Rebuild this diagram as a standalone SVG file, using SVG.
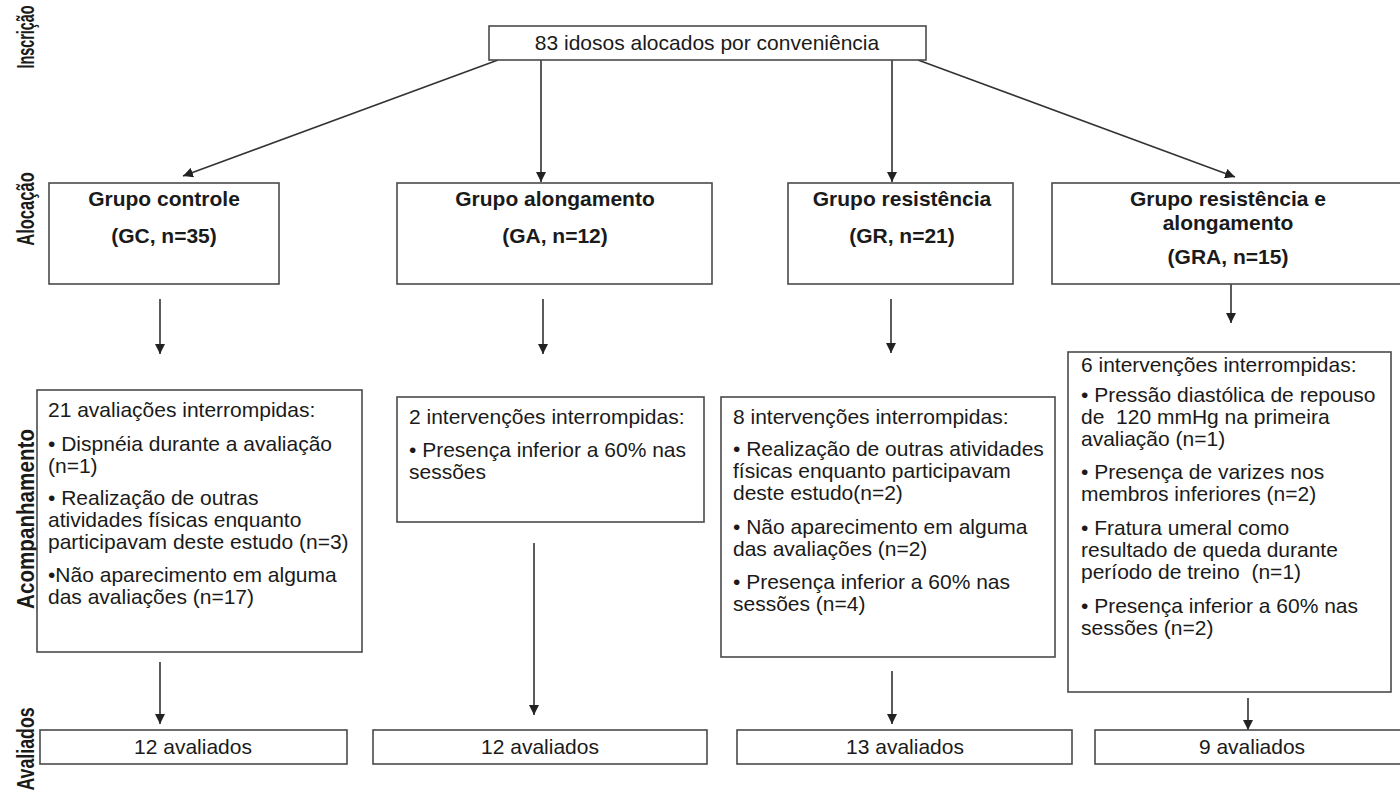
<svg xmlns="http://www.w3.org/2000/svg" width="1400" height="793" viewBox="0 0 1400 793">
<style>
.box{fill:#fff;stroke:#4a4a4a;stroke-width:1.6}
.t{font-family:"Liberation Sans",Arial,sans-serif;font-size:21px;fill:#1a1a1a}
.b{font-weight:bold}
.c{text-anchor:middle}
.side{font-family:"Liberation Sans Narrow","Liberation Sans",Arial,sans-serif;font-weight:bold;font-size:24px;fill:#1a1a1a;text-anchor:middle}
.ln{stroke:#333;stroke-width:1.6;fill:none;marker-end:url(#ah)}
</style>
<defs>
<marker id="ah" markerUnits="userSpaceOnUse" markerWidth="10" markerHeight="10" refX="10" refY="5" orient="auto">
<path d="M0,0 L10,5 L0,10 z" fill="#222"/>
</marker>
</defs>
<rect width="1400" height="793" fill="#fff"/>
<g id="side-labels">
<text class="side" transform="translate(34,37) rotate(-90) scale(0.6,1)">Inscrição</text>
<text class="side" transform="translate(34,209) rotate(-90) scale(0.69,1)">Alocação</text>
<text class="side" transform="translate(34,519) rotate(-90) scale(0.86,1)">Acompanhamento</text>
<text class="side" transform="translate(34,749) rotate(-90) scale(0.74,1)">Avaliados</text>
</g>
<g id="connectors">
<line class="ln" x1="498" y1="60" x2="183" y2="176"/>
<line class="ln" x1="541" y1="60" x2="541" y2="182"/>
<line class="ln" x1="892" y1="60" x2="892" y2="182"/>
<line class="ln" x1="918" y1="60" x2="1235" y2="177"/>
<line class="ln" x1="160" y1="299" x2="160" y2="354"/>
<line class="ln" x1="543" y1="299" x2="543" y2="354"/>
<line class="ln" x1="891" y1="299" x2="891" y2="353"/>
<line class="ln" x1="1231" y1="270" x2="1231" y2="323"/>
<line class="ln" x1="160" y1="662" x2="160" y2="724"/>
<line class="ln" x1="534" y1="543" x2="534" y2="715"/>
<line class="ln" x1="892" y1="671" x2="892" y2="724"/>
<line class="ln" x1="1248" y1="698" x2="1248" y2="730"/>
</g>
<g id="enroll">
<rect class="box" x="489" y="26" width="437" height="34"/>
<text class="t c" x="707" y="50">83 idosos alocados por conveniência</text>
</g>
<g id="gc">
<rect class="box" x="49" y="183" width="230" height="101"/>
<text class="t b c" x="164" y="206">Grupo controle</text>
<text class="t b c" x="164" y="243">(GC, n=35)</text>
</g>
<g id="ga">
<rect class="box" x="397" y="183" width="315" height="101"/>
<text class="t b c" x="555" y="206">Grupo alongamento</text>
<text class="t b c" x="555" y="243">(GA, n=12)</text>
</g>
<g id="gr">
<rect class="box" x="788" y="183" width="225" height="101"/>
<text class="t b c" x="902" y="206">Grupo resistência</text>
<text class="t b c" x="902" y="243">(GR, n=21)</text>
</g>
<g id="gra">
<rect class="box" x="1052" y="183" width="352" height="101"/>
<text class="t b c" x="1228" y="206">Grupo resistência e</text>
<text class="t b c" x="1228" y="230">alongamento</text>
<text class="t b c" x="1228" y="264">(GRA, n=15)</text>
</g>
<g id="gc-follow">
<rect class="box" x="37" y="390" width="325" height="262"/>
<text class="t" x="48" y="417">21 avaliações interrompidas:</text>
<text class="t" x="48" y="451">• Dispnéia durante a avaliação</text>
<text class="t" x="48" y="473">(n=1)</text>
<text class="t" x="48" y="505">• Realização de outras</text>
<text class="t" x="48" y="527">atividades físicas enquanto</text>
<text class="t" x="48" y="549">participavam deste estudo (n=3)</text>
<text class="t" x="48" y="582">•Não aparecimento em alguma</text>
<text class="t" x="48" y="604">das avaliações (n=17)</text>
</g>
<g id="ga-follow">
<rect class="box" x="397" y="397" width="307" height="125"/>
<text class="t" x="409" y="424">2 intervenções interrompidas:</text>
<text class="t" x="409" y="457">• Presença inferior a 60% nas</text>
<text class="t" x="409" y="479">sessões</text>
</g>
<g id="gr-follow">
<rect class="box" x="721" y="397" width="334" height="260"/>
<text class="t" x="733" y="424">8 intervenções interrompidas:</text>
<text class="t" x="733" y="456">• Realização de outras atividades</text>
<text class="t" x="733" y="478">físicas enquanto participavam</text>
<text class="t" x="733" y="500">deste estudo(n=2)</text>
<text class="t" x="733" y="534">• Não aparecimento em alguma</text>
<text class="t" x="733" y="556">das avaliações (n=2)</text>
<text class="t" x="733" y="589">• Presença inferior a 60% nas</text>
<text class="t" x="733" y="611">sessões (n=4)</text>
</g>
<g id="gra-follow">
<rect class="box" x="1068" y="352" width="323" height="340"/>
<text class="t" x="1081" y="372">6 intervenções interrompidas:</text>
<text class="t" x="1081" y="402">• Pressão diastólica de repouso</text>
<text class="t" x="1081" y="424" xml:space="preserve">de  120 mmHg na primeira</text>
<text class="t" x="1081" y="446">avaliação (n=1)</text>
<text class="t" x="1081" y="479">• Presença de varizes nos</text>
<text class="t" x="1081" y="501">membros inferiores (n=2)</text>
<text class="t" x="1081" y="535">• Fratura umeral como</text>
<text class="t" x="1081" y="557">resultado de queda durante</text>
<text class="t" x="1081" y="579" xml:space="preserve">período de treino  (n=1)</text>
<text class="t" x="1081" y="613">• Presença inferior a 60% nas</text>
<text class="t" x="1081" y="635">sessões (n=2)</text>
</g>
<g id="gc-result">
<rect class="box" x="40" y="730" width="307" height="34"/>
<text class="t c" x="193" y="754">12 avaliados</text>
</g>
<g id="ga-result">
<rect class="box" x="373" y="730" width="334" height="34"/>
<text class="t c" x="540" y="754">12 avaliados</text>
</g>
<g id="gr-result">
<rect class="box" x="737" y="730" width="335" height="34"/>
<text class="t c" x="905" y="754">13 avaliados</text>
</g>
<g id="gra-result">
<rect class="box" x="1095" y="730" width="310" height="34"/>
<text class="t c" x="1252" y="754">9 avaliados</text>
</g>
</svg>
